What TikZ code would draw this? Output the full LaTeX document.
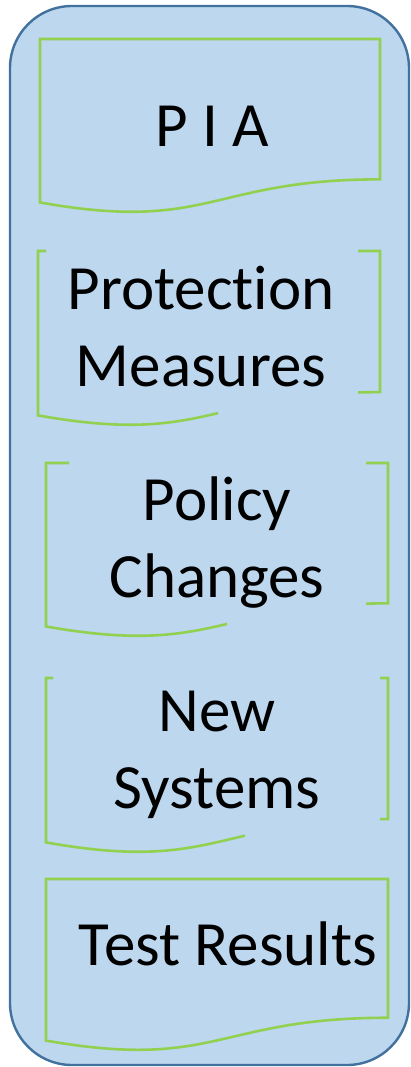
\documentclass[tikz,border=0pt]{standalone}
\usepackage{fontspec}
\setmainfont[Ligatures={NoCommon}]{Carlito}
\definecolor{panelfill}{HTML}{BDD7EE}
\definecolor{panelline}{HTML}{41719C}
\definecolor{docgreen}{HTML}{92D050}

% full flowchart "document" outline: x, y (top left), width, height
\newcommand\docshape[4]{%
  \draw[docline] (#1,#2) -- (#1+#3,#2) -- (#1+#3,#2+0.802*#4)
    .. controls (#1+0.5*#3,#2+0.802*#4) and (#1+0.5*#3,#2+1.1075*#4) ..
    (#1,#2+0.934*#4) -- cycle;}
% document outline shown only as side brackets:
% #5 end of top-left stub, #6 end of bottom wave, #7 start of right bracket
\newcommand\bracketdoc[7]{%
  \begin{scope}
    \clip (#1-5,#2-5) rectangle (#5,#2+5)
          (#1-5,#2+5) rectangle (#6,#2+1.2*#4)
          (#7,#2-5) rectangle (#1+#3+5,#2+1.2*#4);
    \docshape{#1}{#2}{#3}{#4}
  \end{scope}}

\begin{document}
\begin{tikzpicture}[x=1pt,y=-1pt,
  panel/.style={draw=panelline,line width=2.4pt,fill=panelfill,rounded corners=62pt},
  docline/.style={draw=docgreen,line width=2.6pt,line join=miter},
  label/.style={font=\fontsize{63}{77}\selectfont,align=center,inner sep=0pt,anchor=base}]
\useasboundingbox (0,0) rectangle (410,1067);

\draw[panel] (10,6) rectangle (409,1065);

% PIA
\docshape{40}{39}{340}{175}
\node[label] (pia) at (212,147) {P I A};

% Protection Measures (base anchor sits on the last line)
\bracketdoc{38}{251}{342}{176}{46}{218}{358}
\node[label] (prot) at (201,386) {Protection\\Measures};

% Policy Changes
\bracketdoc{46}{463}{342}{175}{69}{227}{366}
\node[label] (policy) at (217,597) {Policy\\Changes};

% New Systems
\bracketdoc{46}{678}{342}{176}{53}{245}{380}
\node[label] (newsys) at (217,808) {New\\Systems};

% Test Results
\docshape{46}{879}{342}{173}
\node[label] (tests) at (228,965) {Test Results};
\end{tikzpicture}
\end{document}
